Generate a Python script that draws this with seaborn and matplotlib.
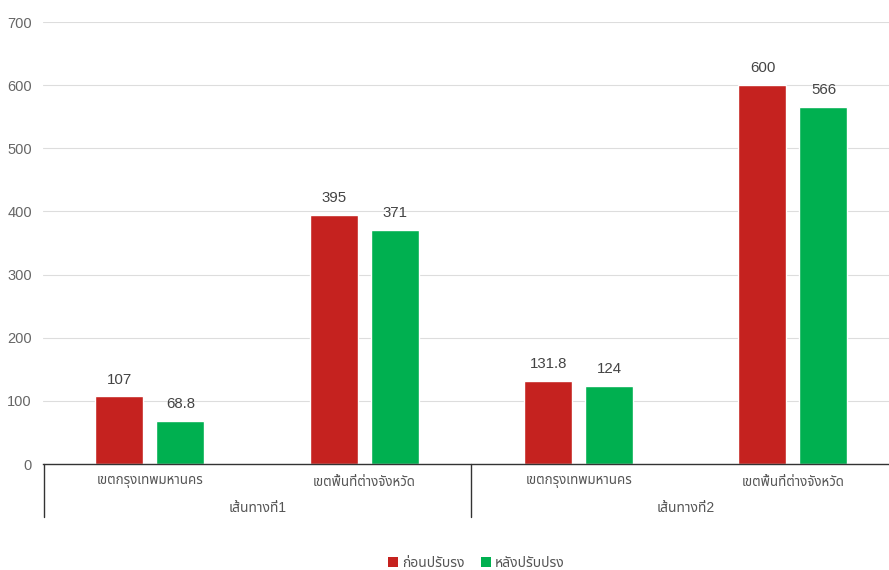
import matplotlib
matplotlib.use("Agg")
import matplotlib.pyplot as plt
import matplotlib.transforms as mtransforms
from matplotlib.patches import Patch
import seaborn as sns
import pandas as pd

# ---- data ----
routes = ["เส้นทางที่1", "เส้นทางที่2"]
areas = ["เขตกรุงเทพมหานคร", "เขตพื้นที่ต่างจังหวัด"]
series = ["ก่อนปรับรง", "หลังปรับปรง"]
before_vals = [107, 395, 131.8, 600]
after_vals = [68.8, 371, 124, 566]
y_ticks = [0, 100, 200, 300, 400, 500, 600, 700]

sns.set_theme(style="white")
plt.rcParams["font.family"] = ["Liberation Sans", "Noto Sans Thai", "DejaVu Sans"]

red = "#C5221F"
green = "#00B050"

keys = [f"{r}|{a}" for r in routes for a in areas]
rows = []
for k, b, a in zip(keys, before_vals, after_vals):
    rows.append({"key": k, "series": series[0], "value": b})
    rows.append({"key": k, "series": series[1], "value": a})
df = pd.DataFrame(rows)

fig = plt.figure(figsize=(8.89, 5.70), dpi=100)
ax = fig.add_axes([43 / 889, (570 - 464) / 570, (889 - 43) / 889, (464 - 22) / 570])

sns.barplot(data=df, x="key", y="value", hue="series", order=keys,
            hue_order=series, palette=[red, green], width=0.569, gap=0.213,
            ax=ax, legend=False, saturation=1)

for cont in ax.containers:
    ax.bar_label(cont, labels=[f"{v:g}" for v in cont.datavalues], padding=7,
                 fontsize=10.8, color="#444444")

ax.set_ylim(0, 700)
ax.set_yticks(y_ticks)
ax.set_yticklabels([str(t) for t in y_ticks], color="#666666", fontsize=10.5)
ax.set_xlim(-0.499, 3.448)
ax.set_xticks(range(len(keys)))
ax.set_xticklabels([k.split("|")[1] for k in keys], color="#555555", fontsize=9.6)
ax.tick_params(axis="x", length=0, pad=9)
ax.tick_params(axis="y", length=0, pad=8)
ax.set_xlabel("")
ax.set_ylabel("")
ax.yaxis.grid(True, color="#dddddd", linewidth=0.8)
ax.set_axisbelow(True)
for s in ["top", "right", "left"]:
    ax.spines[s].set_visible(False)
ax.spines["bottom"].set_color("#333333")
ax.spines["bottom"].set_linewidth(1)

def fx(px):
    return px / 889
def fy(py):
    return 1 - py / 570

for px in [43.5, 471]:
    fig.add_artist(plt.Line2D([fx(px), fx(px)], [fy(464), fy(517)], color="#333333", linewidth=1))

blend = mtransforms.blended_transform_factory(ax.transData, fig.transFigure)
for i, r in enumerate(routes):
    ax.text(2 * i + 0.5, fy(508), r, transform=blend, ha="center", va="center",
            fontsize=10, color="#555555", clip_on=False)

handles = [Patch(facecolor=red, edgecolor="none"), Patch(facecolor=green, edgecolor="none")]
fig.legend(handles, series, loc="center", bbox_to_anchor=(0.536, fy(563)), ncol=2,
           frameon=False, fontsize=10, handlelength=0.7, handleheight=0.7,
           handletextpad=0.3, columnspacing=1.2, labelcolor="#555555")

fig.savefig("out.png", dpi=100)
